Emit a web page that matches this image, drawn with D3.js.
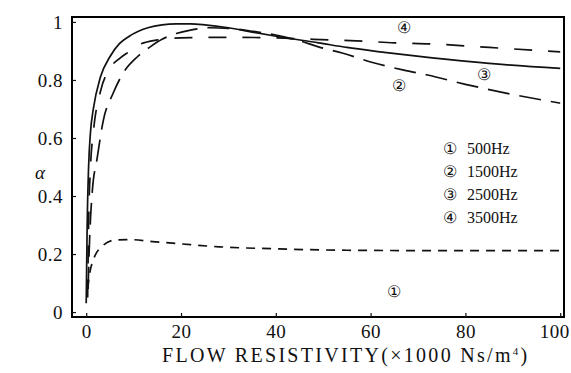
<!DOCTYPE html>
<html><head><meta charset="utf-8">
<script src="https://cdn.jsdelivr.net/npm/d3@7"></script>
<style>body{margin:0;background:#fff}svg{display:block}text{font-family:"Liberation Serif","DejaVu Serif",serif;fill:#111}</style>
</head><body>
<svg id="c" width="571" height="373"></svg>
<script>
// Data
const xTicks = [0, 20, 40, 60, 80, 100];
const yTicks = [0, 0.2, 0.4, 0.6, 0.8, 1];
const yTickLabels = ["0", "0.2", "0.4", "0.6", "0.8", "1"];
const s500x  = [0.3, 0.6, 1.5, 3.6, 6, 9, 14, 20, 28, 40, 55, 70, 100];
const s500y  = [0.08, 0.12, 0.18, 0.23, 0.248, 0.25, 0.243, 0.235, 0.225, 0.218, 0.213, 0.212, 0.212];
const s1500x = [0.4, 0.6, 0.9, 1.3, 2.3, 3.6, 5.7, 7.8, 10.8, 13.5, 16, 19, 22, 26, 30, 35, 40, 45, 49, 54, 60, 67, 72, 80, 90, 100];
const s1500y = [0.08, 0.2, 0.32, 0.42, 0.53, 0.66, 0.755, 0.824, 0.88, 0.914, 0.94, 0.96, 0.972, 0.98, 0.978, 0.968, 0.955, 0.935, 0.914, 0.893, 0.862, 0.834, 0.817, 0.785, 0.75, 0.72];
const s2500x = [0, 0.2, 0.5, 0.9, 1.5, 3, 5, 7, 9, 13, 16, 19, 22, 25, 30, 35, 41, 49, 55, 62, 73, 85, 100];
const s2500y = [0.03, 0.3, 0.5, 0.62, 0.7, 0.81, 0.88, 0.925, 0.95, 0.98, 0.99, 0.993, 0.993, 0.99, 0.98, 0.965, 0.948, 0.928, 0.912, 0.897, 0.876, 0.857, 0.84];
const s3500x = [0.3, 0.5, 0.9, 1.5, 3, 5, 7.2, 9.3, 11, 15, 20, 30, 40, 48, 57, 65, 73, 85, 100];
const s3500y = [0.05, 0.3, 0.5, 0.62, 0.76, 0.84, 0.876, 0.9, 0.92, 0.938, 0.945, 0.947, 0.945, 0.94, 0.935, 0.928, 0.924, 0.912, 0.897];
const legendLabels = ["500Hz", "1500Hz", "2500Hz", "3500Hz"];
const marks = ["\u2460", "\u2461", "\u2462", "\u2463"];

const svg = d3.select("#c");
const mL = 72, mR = 564, mT = 17, mB = 317;
const x = d3.scaleLinear().domain([-3, 100.8]).range([mL, mR]);
const y = d3.scaleLinear().domain([-0.017, 1.017]).range([mB, mT]);

// frame
const frame = d3.path();
frame.moveTo(mL, mT); frame.lineTo(mR, mT); frame.lineTo(mR, mB); frame.lineTo(mL, mB); frame.closePath();
svg.append("path").attr("d", frame.toString()).attr("fill", "none")
  .attr("stroke", "#000").attr("stroke-width", 2);

// axes
const xAxis = d3.axisBottom(x).tickValues(xTicks).tickSize(-4).tickPadding(8).tickFormat(d3.format("d"));
const gx = svg.append("g").attr("transform", `translate(0,${mB})`).call(xAxis);
const yAxis = d3.axisLeft(y).tickValues(yTicks).tickSize(-4).tickPadding(9).tickFormat((d, i) => yTickLabels[i]);
const gy = svg.append("g").attr("transform", `translate(${mL},0)`).call(yAxis);
[gx, gy].forEach(g => {
  g.select(".domain").remove();
  g.selectAll(".tick line").attr("stroke", "#111").attr("stroke-width", 1.2);
  g.selectAll(".tick text").style("font-size", "19px").attr("fill", "#111")
    .style("font-family", "'Liberation Serif', serif").style("letter-spacing", "0.5px");
});
gx.selectAll(".tick text").filter(d => d === 100).attr("dx", -6);

// series
const series = [
  {xs: s500x, ys: s500y, dash: "9,7"},
  {xs: s1500x, ys: s1500y, dash: "22,10"},
  {xs: s2500x, ys: s2500y, dash: null},
  {xs: s3500x, ys: s3500y, dash: "18,16"}
];
const line = d3.line().x(d => x(d[0])).y(d => y(d[1])).curve(d3.curveMonotoneX);
series.forEach(s => {
  const pts = s.xs.map((v, i) => [v, s.ys[i]]);
  svg.append("path").attr("d", line(pts)).attr("fill", "none").attr("stroke", "#111")
    .attr("stroke-width", 1.7).attr("stroke-dasharray", s.dash);
});

// curve labels
const curveLabels = [[65, 0.07, 0], [66, 0.78, 1], [84, 0.82, 2], [67, 0.98, 3]];
curveLabels.forEach(c => {
  svg.append("text").attr("x", x(c[0])).attr("y", y(c[1])).attr("text-anchor", "middle")
    .attr("dominant-baseline", "central").style("font-size", "16px").text(marks[c[2]]);
});

// legend
legendLabels.forEach((t, i) => {
  const yy = 148 + i * 23.3;
  svg.append("text").attr("x", 450).attr("y", yy).attr("text-anchor", "middle")
    .attr("dominant-baseline", "central").style("font-size", "16px").text(marks[i]);
  svg.append("text").attr("x", 467).attr("y", yy).attr("dominant-baseline", "central")
    .style("font-size", "16px").text(t);
});

// axis titles
svg.append("text").attr("x", 40).attr("y", 172).attr("text-anchor", "middle").attr("dominant-baseline", "central")
  .style("font-size", "19px").style("font-style", "italic").text("\u03b1");
const title = svg.append("text").attr("x", 162).attr("y", 362).style("font-size", "20px").style("letter-spacing", "2.3px");
title.append("tspan").text("FLOW RESISTIVITY(\u00d71000 Ns/m");
title.append("tspan").attr("dy", -7).style("font-size", "11px").text("4");
title.append("tspan").attr("dy", 7).text(")");
</script>
</body></html>
